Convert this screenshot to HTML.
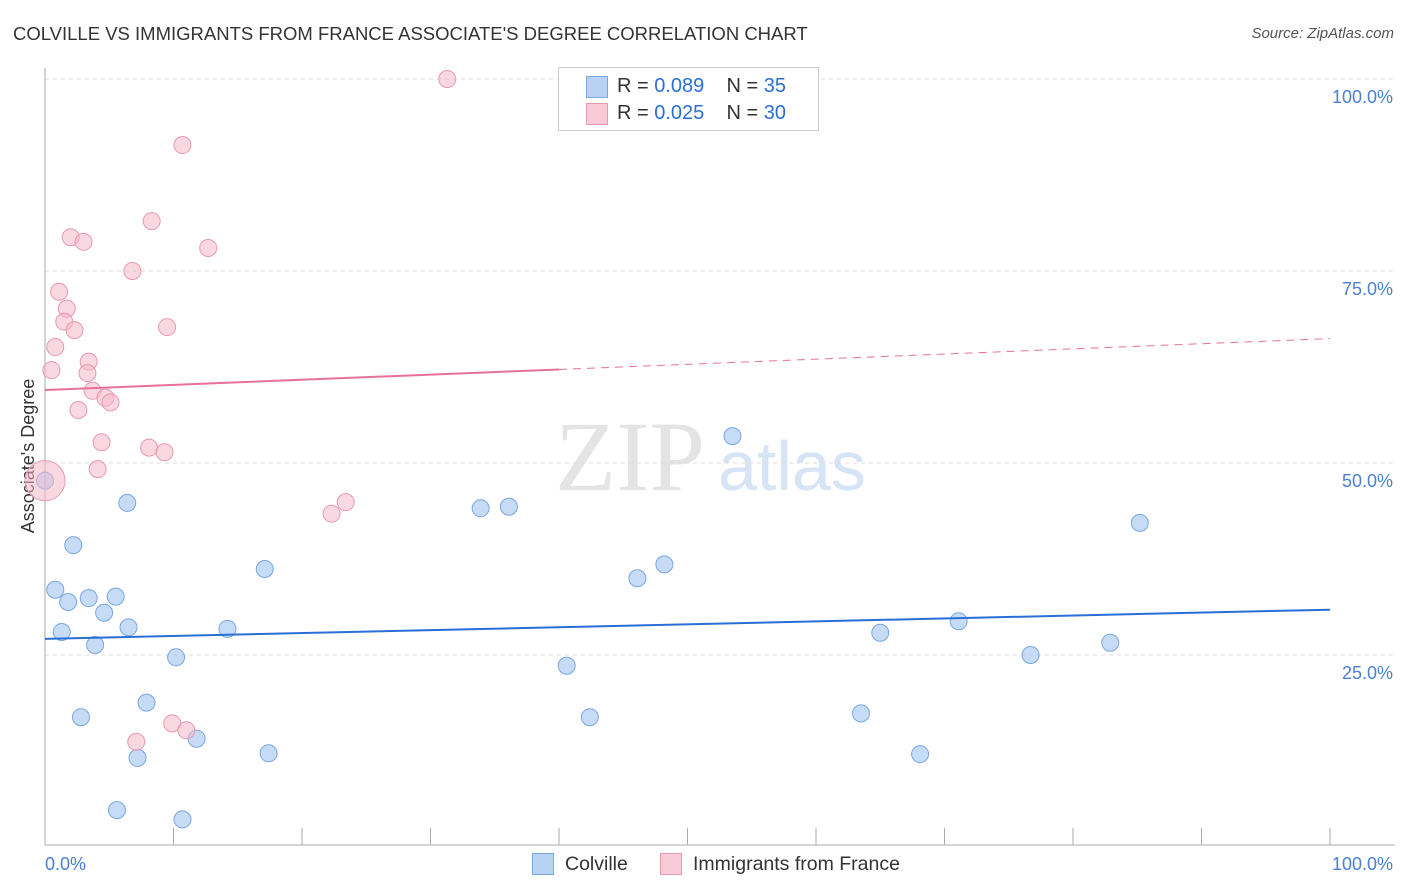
<!DOCTYPE html>
<html><head><meta charset="utf-8"><style>
body{margin:0;background:#fff;font-family:"Liberation Sans",sans-serif}
#c{position:relative;width:1406px;height:892px;overflow:hidden}
.t{position:absolute;white-space:nowrap}
</style></head><body>
<div id="c">
<div class="t" style="left:13px;top:23px;font-size:18.5px;color:#333">COLVILLE VS IMMIGRANTS FROM FRANCE ASSOCIATE'S DEGREE CORRELATION CHART</div>
<div class="t" style="right:12px;top:25px;font-size:15px;color:#555;font-style:italic">Source: ZipAtlas.com</div>
<svg id="s" width="1406" height="892" style="position:absolute;left:0;top:0"></svg>
</div>
<script>
const blueX=[0,6.4,2.2,0.8,1.8,3.4,5.5,4.6,1.3,6.5,3.9,10.2,14.2,17.1,2.8,7.9,7.2,11.8,5.6,10.7,17.4,33.9,36.1,40.6,42.4,46.1,48.2,53.5,63.5,65.0,68.1,71.1,76.7,82.9,85.2];
const blueY=[47.7,44.8,39.3,33.5,31.9,32.4,32.6,30.5,28.0,28.6,26.3,24.7,28.4,36.2,16.9,18.8,11.6,14.1,4.8,3.6,12.2,44.1,44.3,23.6,16.9,35.0,36.8,53.5,17.4,27.9,12.1,29.4,25.0,26.6,42.2];
const pinkX=[31.3,10.7,8.3,2.0,3.0,12.7,6.8,1.1,1.7,1.5,2.3,9.5,0.8,0.5,3.4,3.3,3.7,4.7,5.1,2.6,4.4,8.1,9.3,4.1,22.3,23.4,9.9,11.0,7.1,0];
const pinkY=[100,91.4,81.5,79.4,78.8,78.0,75.0,72.3,70.1,68.4,67.3,67.7,65.1,62.1,63.2,61.7,59.4,58.5,57.9,56.9,52.7,52.0,51.4,49.2,43.4,44.9,16.1,15.2,13.7,47.7];
const blueTrend=[27.1,30.9];
const pinkTrend=[59.5,66.2];
const yTicks=[25,50,75,100];
const yTickLabels=["25.0%","50.0%","75.0%","100.0%"];
const xs=v=>45+v*12.85, ys=v=>847-v*7.68;
const s=document.getElementById('s');const NS="http://www.w3.org/2000/svg";
function mk(t,a,p){const e=document.createElementNS(NS,t);for(const k in a)e.setAttribute(k,a[k]);(p||s).appendChild(e);return e;}
let w=mk('text',{x:555,y:490,'font-size':100,fill:'#e4e4e4','font-family':'Liberation Serif'});w.textContent='ZIP';

w=mk('text',{x:718,y:490,'font-size':70,fill:'#d6e4f5','font-family':'Liberation Sans'});w.textContent='atlas';

yTicks.forEach((v,i)=>{let g=mk('line',{x1:45,x2:1395,y1:ys(v),y2:ys(v),stroke:'#ddd','stroke-dasharray':'4,4'});

let t=mk('text',{x:1393,y:ys(v)+24,'text-anchor':'end','font-size':18,fill:'#4a7fd4'});t.textContent=yTickLabels[i];
});
let a=mk('line',{x1:45,x2:45,y1:68,y2:845,stroke:'#aaa'});
a=mk('line',{x1:45,x2:1395,y1:845,y2:845,stroke:'#aaa'});
for(let i=0;i<=10;i++){let t=mk('line',{x1:xs(i*10),x2:xs(i*10),y1:828,y2:845,stroke:'#aaa'});}
let yl=mk('text',{x:0,y:0,'font-size':18,fill:'#333',transform:'translate(34,456) rotate(-90)','text-anchor':'middle'});yl.textContent="Associate's Degree";

let xl=mk('text',{x:45,y:870,'font-size':18,fill:'#4a7fd4'});xl.textContent='0.0%';
xl=mk('text',{x:1393,y:870,'font-size':18,fill:'#4a7fd4','text-anchor':'end'});xl.textContent='100.0%';
blueX.forEach((x,i)=>{let c=mk('circle',{cx:xs(x),cy:ys(blueY[i]),r:8.5,fill:'rgba(160,195,240,0.6)',stroke:'#7aa7e0'});
});
pinkX.forEach((x,i)=>{let c=mk('circle',{cx:xs(x),cy:ys(pinkY[i]),r:i==29?20:8.5,fill:'rgba(246,184,203,0.55)',stroke:'#e899b2'});
});
let l=mk('line',{x1:xs(0),y1:ys(blueTrend[0]),x2:xs(100),y2:ys(blueTrend[1]),stroke:'#2a6fd6','stroke-width':2});

const pm=pinkTrend[0]+(pinkTrend[1]-pinkTrend[0])*0.4;
l=mk('line',{x1:xs(0),y1:ys(pinkTrend[0]),x2:xs(40),y2:ys(pm),stroke:'#e8709a','stroke-width':2});

l=mk('line',{x1:xs(40),y1:ys(pm),x2:xs(100),y2:ys(pinkTrend[1]),stroke:'#e8709a','stroke-width':1,'stroke-dasharray':'8,6'});

</script>
<div style="position:absolute;left:558px;top:67px;width:259px;height:62px;border:1px solid #ccc;background:#fff;font-size:20px">
<div style="position:absolute;left:27px;top:8px;width:20px;height:20px;background:#b8d2f4;border:1px solid #7aa7e0"></div>
<div class="t" style="left:58px;top:7px;color:#333">R = <span style="color:#2a6fd6">0.089</span>&nbsp;&nbsp;&nbsp;&nbsp;N = <span style="color:#2a6fd6">35</span></div>
<div style="position:absolute;left:27px;top:35px;width:20px;height:20px;background:#f9cad8;border:1px solid #e899b2"></div>
<div class="t" style="left:58px;top:34px;color:#333">R = <span style="color:#2a6fd6">0.025</span>&nbsp;&nbsp;&nbsp;&nbsp;N = <span style="color:#2a6fd6">30</span></div>
</div>
<div style="position:absolute;left:532px;top:853px;width:400px;height:24px;font-size:19.5px;color:#333">
<span style="position:absolute;left:0;top:0;width:20px;height:20px;background:#b8d2f4;border:1px solid #7aa7e0"></span><span class="t" style="left:33px;top:0">Colville</span>
<span style="position:absolute;left:128px;top:0;width:20px;height:20px;background:#f9cad8;border:1px solid #e899b2"></span><span class="t" style="left:161px;top:0">Immigrants from France</span>
</div>
</body></html>
